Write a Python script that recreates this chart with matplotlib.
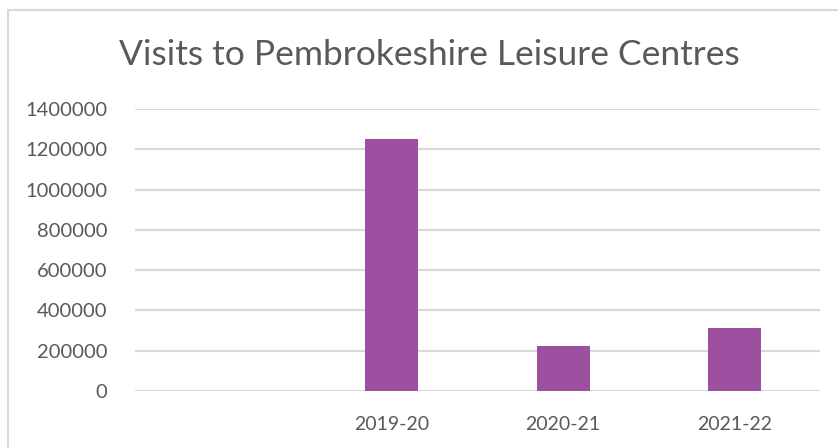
import matplotlib.pyplot as plt
from matplotlib.patches import Rectangle

categories = ["", "2019-20", "2020-21", "2021-22"]
visits = [0, 1250000, 222000, 314000]
yticks = [0, 200000, 400000, 600000, 800000, 1000000, 1200000, 1400000]

plt.rcParams['font.family'] = ['Lato', 'DejaVu Sans']
grey = "#595959"

fig = plt.figure(figsize=(8.38, 4.48), dpi=100)
ax = fig.add_axes([135 / 838, 1 - 391 / 448, 685 / 838, 282 / 448])

x = range(len(categories))
ax.bar(x, visits, width=0.31, color="#9E50A0", zorder=3)

ax.set_xlim(-0.5, len(categories) - 0.5)
ax.set_ylim(0, 1400000)
ax.set_yticks(yticks)
ax.set_yticklabels([str(v) for v in yticks], color=grey, fontsize=14.5)
ax.set_xticks(list(x))
ax.set_xticklabels(categories, color=grey, fontsize=14)
ax.tick_params(axis="both", length=0)
ax.tick_params(axis="y", pad=20)
ax.tick_params(axis="x", pad=18)

ax.grid(axis="y", color="#d9d9d9", linewidth=1.5, zorder=0)
for s in ax.spines.values():
    s.set_visible(False)

fig.text(429 / 838, 1 - 55 / 448, "Visits to Pembrokeshire Leisure Centres",
         ha="center", va="center", fontsize=25.5, color=grey)

# chart border
fig.patches.append(Rectangle((7.5 / 838, -0.1), 1.2, 1 - 10.5 / 448 + 0.1,
                             transform=fig.transFigure, fill=False,
                             edgecolor="#d9d9d9", linewidth=1.5))

fig.savefig("out.png", dpi=100)
